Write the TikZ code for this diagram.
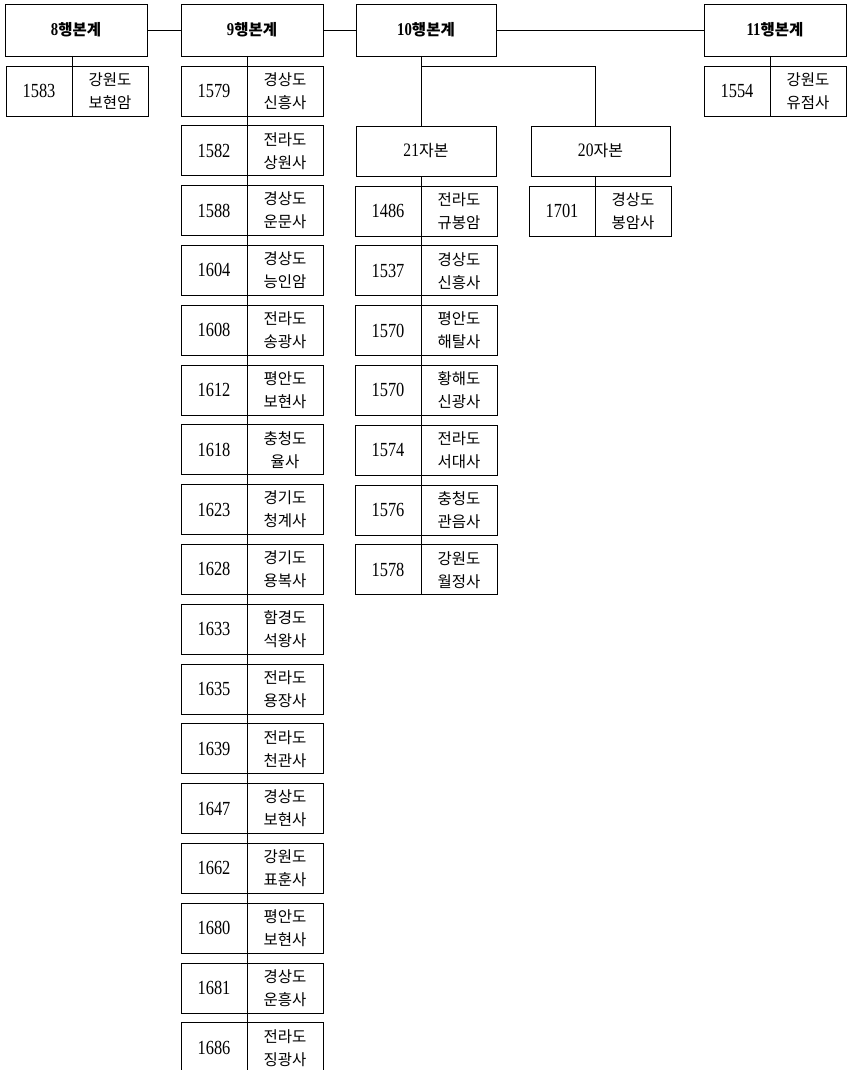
\documentclass[tikz,border=0pt]{standalone}
\usepackage{fontspec}
\setmainfont[FakeStretch=0.82]{Liberation Serif}
\newfontfamily\kr{Noto Sans CJK KR}
\usetikzlibrary{positioning}

\begin{document}
\begin{tikzpicture}[x=1pt, y=-1pt]
\tikzset{
  box/.style={draw, line width=0.9pt, inner sep=0pt, outer sep=0pt, minimum height=50pt, align=center},
  hdr/.style={box, minimum width=142pt, minimum height=52pt, font=\bfseries\fontsize{18}{20}\selectfont},
  sub/.style={box, minimum width=140pt, font=\fontsize{19}{20}\selectfont},
  yrbox/.style={box, minimum width=66pt, font=\fontsize{20}{20}\selectfont},
  tmbox/.style={box, minimum width=76pt, font=\kr\fontsize{15.5}{23}\selectfont},
  conn/.style={line width=0.9pt}
}
\useasboundingbox (0,0) rectangle (847,1070);

% headers
\node[hdr] (h8) at (76,30) {8{\kr\fontsize{15.5}{20}\selectfont 행본계}};
\node[hdr] (h9) at (252,30) {9{\kr\fontsize{15.5}{20}\selectfont 행본계}};
\node[hdr, minimum width=140pt] (h10) at (426,30) {10{\kr\fontsize{15.5}{20}\selectfont 행본계}};
\node[hdr] (h11) at (775,30) {11{\kr\fontsize{15.5}{20}\selectfont 행본계}};

\node[sub] (b21) at (426,151) {21{\kr\fontsize{16}{20}\selectfont 자본}};
\node[sub, minimum width=139pt] (b20) at (600.5,151) {20{\kr\fontsize{16}{20}\selectfont 자본}};

% single boxes
\node[yrbox, anchor=north west] (y8-1) at (6,66) {1583};
\node[tmbox, right=0pt of y8-1] (t8-1) {강원도\\보현암};
\node[yrbox, anchor=north west] (y11-1) at (704,66) {1554};
\node[tmbox, right=0pt of y11-1] (t11-1) {강원도\\유점사};
\node[yrbox, anchor=north west] (y20-1) at (529,186) {1701};
\node[tmbox, right=0pt of y20-1] (t20-1) {경상도\\봉암사};

% 9행본계
\foreach \yv/\pv/\tv [count=\i] in {1579/경상도/신흥사, 1582/전라도/상원사,
    1588/경상도/운문사, 1604/경상도/능인암, 1608/전라도/송광사,
    1612/평안도/보현사, 1618/충청도/율사, 1623/경기도/청계사,
    1628/경기도/용복사, 1633/함경도/석왕사, 1635/전라도/용장사,
    1639/전라도/천관사, 1647/경상도/보현사, 1662/강원도/표훈사,
    1680/평안도/보현사, 1681/경상도/운흥사, 1686/전라도/징광사} {
  \node[yrbox, anchor=north west] (y9-\i) at (181,{66+(\i-1)*59.8}) {\yv};
  \node[tmbox, right=0pt of y9-\i] (t9-\i) {\pv\\\tv};
}

% 21자본
\foreach \yv/\pv/\tv [count=\i] in {1486/전라도/규봉암, 1537/경상도/신흥사,
    1570/평안도/해탈사, 1570/황해도/신광사, 1574/전라도/서대사,
    1576/충청도/관음사, 1578/강원도/월정사} {
  \node[yrbox, anchor=north west] (y21-\i) at (355,{186+(\i-1)*59.8}) {\yv};
  \node[tmbox, right=0pt of y21-\i] (t21-\i) {\pv\\\tv};
}

\draw[conn] (h8) -- (h9);
\draw[conn] (h9) -- (h10);
\draw[conn] (h10) -- (h11);

\coordinate (j10) at (y20-1.east |- y11-1.north);

\draw[conn] (y8-1.east |- h8.south) -- (y8-1.north east);
\draw[conn] (y9-1.east |- h9.south) -- (y9-17.north east);
\draw[conn] (y11-1.east |- h11.south) -- (y11-1.north east);
\draw[conn] (y21-1.east |- h10.south) -- (y21-1.east |- b21.north);
\draw[conn] (y21-1.east |- j10) -- (j10) -- (y20-1.east |- b20.north);
\draw[conn] (y21-1.east |- b21.south) -- (y21-7.north east);
\draw[conn] (y20-1.east |- b20.south) -- (y20-1.north east);
\end{tikzpicture}
\end{document}
